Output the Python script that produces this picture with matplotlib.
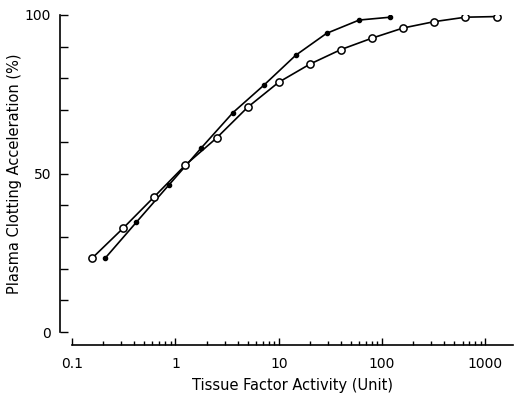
import numpy as np
import matplotlib
matplotlib.use('Agg')
from matplotlib import pyplot as plt
from matplotlib.ticker import LogLocator, MultipleLocator, FixedLocator

# open circles
open_x = [0.156, 0.3125, 0.625, 1.25, 2.5, 5, 10, 20, 40, 80, 160, 320, 640, 1280]
open_y = [23.3, 32.8, 42.7, 52.7, 61.2, 70.9, 78.8, 84.5, 89.1, 92.7, 95.9, 97.9, 99.3, 99.5]
# filled dots
fill_x = [0.21, 0.42, 0.87, 1.77, 3.6, 7.2, 14.6, 29, 60, 120]
fill_y = [23.4, 34.7, 46.5, 58.0, 69.2, 77.9, 87.3, 94.2, 98.4, 99.3]

x_ticks = [0.1, 1, 10, 100, 1000]
x_labels = ['0.1', '1', '10', '100', '1000']
y_ticks = [0, 50, 100]

plt.rcParams['font.family'] = ['DejaVu Sans']
fig = plt.figure(figsize=(5.30, 3.94), dpi=100)
ax = fig.add_axes([0.136, 0.157, 0.832, 0.805])

ax.plot(fill_x, fill_y, '-o', color='black', lw=1.2, ms=3, mfc='black', mec='black')
ax.plot(open_x, open_y, '-o', color='black', lw=1.2, ms=5.2, mfc='white', mec='black', mew=1.1)

ax.set_xscale('log')
ax.set_xlim(0.1, 1850)
ax.set_ylim(0, 100)

ax.xaxis.set_major_locator(FixedLocator(x_ticks))
ax.set_xticklabels(x_labels)
ax.xaxis.set_minor_locator(LogLocator(base=10, subs=np.arange(2, 10)))
ax.xaxis.set_minor_formatter(plt.NullFormatter())
ax.set_yticks(y_ticks)
ax.yaxis.set_minor_locator(MultipleLocator(10))

ax.tick_params(axis='y', which='both', direction='in', length=6, width=1, labelsize=10, pad=6)
ax.tick_params(axis='x', which='major', direction='in', length=5, width=1, labelsize=10, pad=9)
ax.tick_params(axis='x', which='minor', direction='in', length=3, width=1)

for s in ['top', 'right']:
    ax.spines[s].set_visible(False)
ax.spines['left'].set_position(('outward', 9))
ax.spines['bottom'].set_position(('outward', 9))
ax.spines['left'].set_linewidth(1.2)
ax.spines['bottom'].set_linewidth(1.2)

ax.set_xlabel('Tissue Factor Activity (Unit)', fontsize=10.5, labelpad=5)
ax.set_ylabel('Plasma Clotting Acceleration (%)', fontsize=10.5, labelpad=2)

fig.savefig('out.png', dpi=100)
